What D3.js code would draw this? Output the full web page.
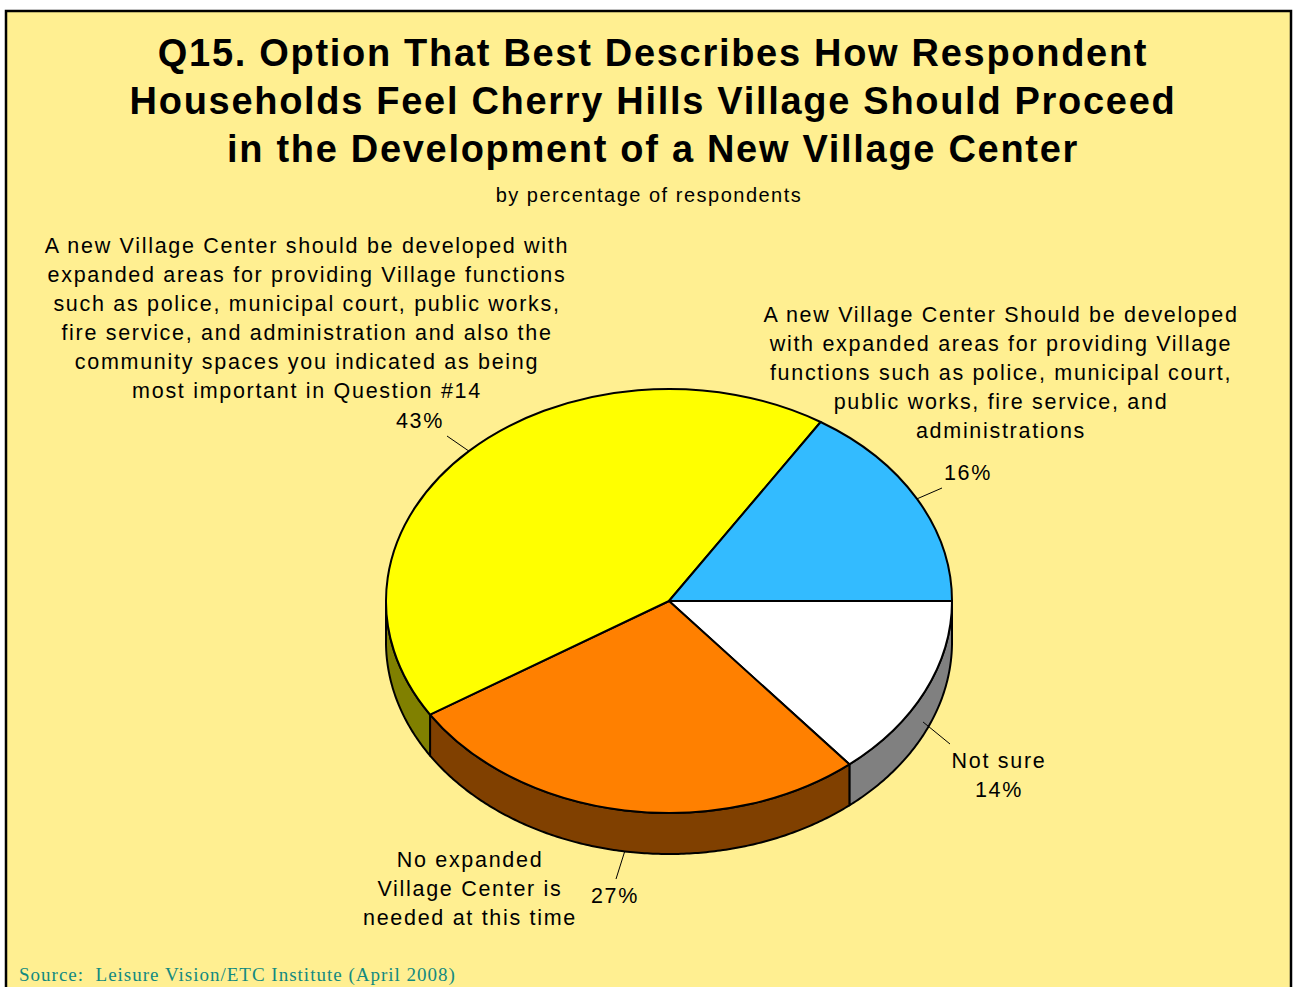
<!DOCTYPE html>
<html>
<head>
<meta charset="utf-8">
<script src="https://cdn.jsdelivr.net/npm/d3@7"></script>
<style>
  html, body { margin: 0; padding: 0; background: #ffffff; }
  svg { display: block; }
</style>
</head>
<body>
<svg id="chart" width="1294" height="987"></svg>
<script>
// ---- data (clockwise from 3 o'clock) ----
const categories = ["Not sure", "No expanded Village Center", "Village functions + community spaces", "Village functions only"];
const values = [14, 27, 43, 16];
const topColors = ["#ffffff", "#ff8000", "#ffff00", "#33bbff"];
const sideColors = ["#808080", "#804000", "#808000", "#1a6080"];
const titleLines = [
  "Q15. Option That Best Describes How Respondent",
  "Households Feel Cherry Hills Village Should Proceed",
  "in the Development of a New Village Center"
];
const subtitle = "by percentage of respondents";
const labelLines = [
  ["Not sure"],
  ["No expanded", "Village Center is", "needed at this time"],
  ["A new Village Center should be developed with", "expanded areas for providing Village functions",
   "such as police, municipal court, public works,", "fire service, and administration and also the",
   "community spaces you indicated as being", "most important in Question #14"],
  ["A new Village Center Should be developed", "with expanded areas for providing Village",
   "functions such as police, municipal court,", "public works, fire service, and", "administrations"]
];
const pctLabels = ["14%", "27%", "43%", "16%"];
const source = "Source:  Leisure Vision/ETC Institute (April 2008)";

// ---- layout ----
const W = 1294, H = 987;
const cx = 669, cy = 601, rx = 283, ry = 212, depth = 41;
const svg = d3.select("#chart");
const font = "'Liberation Sans', Arial, sans-serif";

svg.append("rect").attr("x", 6).attr("y", 11).attr("width", 1285).attr("height", 990)
  .attr("fill", "#ffef91").attr("stroke", "#000").attr("stroke-width", 2.5);

// title
svg.append("g").selectAll("text").data(titleLines).join("text")
  .attr("x", 653).attr("y", (d, i) => 66 + i * 48)
  .attr("text-anchor", "middle").attr("font-family", font).attr("font-weight", "bold")
  .attr("font-size", 38).attr("letter-spacing", 1.7).attr("fill", "#000").text(d => d);

svg.append("text").attr("x", 649).attr("y", 202).attr("text-anchor", "middle")
  .attr("font-family", font).attr("font-size", 20).attr("letter-spacing", 1.5)
  .attr("fill", "#000").text(subtitle);

svg.append("text").attr("x", 19).attr("y", 981).attr("xml:space", "preserve")
  .style("white-space", "pre")
  .attr("font-family", "'Liberation Serif', 'Times New Roman', serif").attr("font-size", 19)
  .attr("letter-spacing", 1).attr("fill", "#138a80").text(source);

// ---- pie ----
const pie = d3.pie().sort(null).value(d => d).startAngle(Math.PI / 2).endAngle(Math.PI / 2 + 2 * Math.PI);
const arcs = pie(values);
const sx = d3.scaleLinear().domain([-1, 1]).range([cx - rx, cx + rx]);
const sy = d3.scaleLinear().domain([-1, 1]).range([cy - ry, cy + ry]);
const pt = (a, dz) => [sx(Math.sin(a)), sy(-Math.cos(a)) + (dz || 0)];
const line = d3.line();

function arcPts(a0, a1, dz) {
  const n = Math.max(2, Math.ceil(Math.abs(a1 - a0) / 0.01));
  return d3.range(n + 1).map(i => pt(a0 + (a1 - a0) * i / n, dz));
}

// side walls: front half where d3 angle in (pi/2, 3pi/2)
const gSide = svg.append("g");
arcs.forEach((d, i) => {
  const lo = Math.PI / 2, hi = 3 * Math.PI / 2;
  const a0 = Math.max(d.startAngle, lo), a1 = Math.min(d.endAngle, hi);
  if (a1 <= a0) return;
  const topP = arcPts(a0, a1, 0);
  const botP = arcPts(a1, a0, depth);
  gSide.append("path").attr("d", line(topP.concat(botP)) + "Z")
    .attr("fill", sideColors[i]).attr("stroke", "#000").attr("stroke-width", 2)
    .attr("stroke-linejoin", "round");
});

// top faces using d3.arc scaled vertically
const arcGen = d3.arc().innerRadius(0).outerRadius(rx);
const gTop = svg.append("g").attr("transform", `translate(${cx},${cy}) scale(1,${ry / rx})`);
gTop.selectAll("path").data(arcs).join("path")
  .attr("d", arcGen).attr("fill", (d, i) => topColors[i])
  .attr("stroke", "#000").attr("stroke-width", 2).attr("vector-effect", "non-scaling-stroke")
  .attr("stroke-linejoin", "round");

// ---- labels ----
const labelPos = [
  { x: 999, y: 768, lh: 29 },
  { x: 470, y: 867, lh: 29 },
  { x: 307, y: 253, lh: 29 },
  { x: 1001, y: 322, lh: 29 }
];
const pctPos = [
  { x: 999, y: 797 }, { x: 615, y: 903 }, { x: 420, y: 428 }, { x: 968, y: 480 }
];
const leaderOut = [[950, 744], [616, 879], [447, 436], [942, 488]];

const gLab = svg.append("g").attr("font-family", font).attr("font-size", 21.5).attr("fill", "#000")
  .attr("text-anchor", "middle").attr("letter-spacing", 1.7);
labelLines.forEach((lines, i) => {
  lines.forEach((t, j) => {
    gLab.append("text").attr("x", labelPos[i].x).attr("y", labelPos[i].y + j * labelPos[i].lh).text(t);
  });
  gLab.append("text").attr("x", pctPos[i].x).attr("y", pctPos[i].y).text(pctLabels[i]);
});

// leader lines: from label to slice edge
arcs.forEach((d, i) => {
  const mid = (d.startAngle + d.endAngle) / 2;
  let target = pt(mid, 0);
  if (i === 1) target = pt(mid, depth);
  if (i === 0) target = [sx(Math.sin(mid)) - 2, sy(-Math.cos(mid)) + depth * 0.75];
  svg.append("line").attr("x1", leaderOut[i][0]).attr("y1", leaderOut[i][1])
    .attr("x2", target[0]).attr("y2", target[1])
    .attr("stroke", "#000").attr("stroke-width", 1);
});
</script>
</body>
</html>
